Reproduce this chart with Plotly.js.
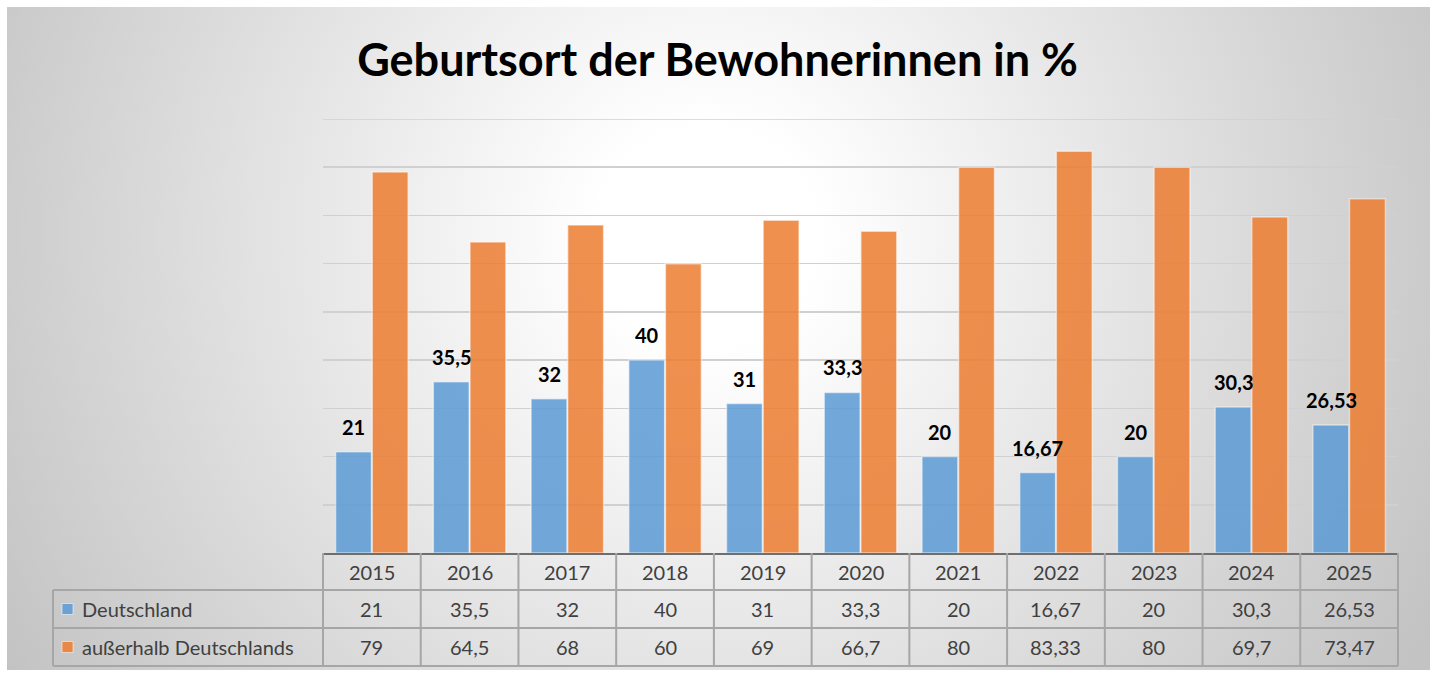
<!DOCTYPE html>
<html>
<head>
<meta charset="utf-8">
<script src="https://cdn.plot.ly/plotly-3.0.1.min.js"></script>
<style>
  html, body { margin:0; padding:0; background:#ffffff; }
  #bg { position:absolute; left:7px; top:7px; width:1423px; height:663px;
        background: radial-gradient(circle at 700px 230px, #ffffff 0px, #ffffff 110px, #c3c3c3 820px); }
  #chart { position:absolute; left:0; top:0; width:1435px; height:673px; }
</style>
</head>
<body>
<div id="bg"></div>
<div id="chart"></div>
<script>
// ---- data ----
const years = ["2015","2016","2017","2018","2019","2020","2021","2022","2023","2024","2025"];
const deutschland = [21, 35.5, 32, 40, 31, 33.3, 20, 16.67, 20, 30.3, 26.53];
const ausserhalb = [79, 64.5, 68, 60, 69, 66.7, 80, 83.33, 80, 69.7, 73.47];
const seriesNames = ["Deutschland", "außerhalb Deutschlands"];
const chartTitle = "Geburtsort der Bewohnerinnen in %";
const yMax = 90;

// ---- styling ----
const blue = "#5b9bd5", orange = "#ed7d31";
const fontFam = "Lato, 'Open Sans', sans-serif";
const fmt = v => String(v).replace(".", ",");

// geometry helpers (pixels -> paper)
const L = 323, R = 1398, T = 119, B = 553;
const px = x => (x - L) / (R - L);
const py = y => (B - y) / (B - T);

const traces = [
  { type:"bar", name:seriesNames[0], x:years, y:deutschland,
    marker:{color:blue, opacity:0.85, line:{color:"rgba(255,255,255,0.55)", width:1.5}},
    hoverinfo:"x+y", showlegend:false },
  { type:"bar", name:seriesNames[1], x:years, y:ausserhalb,
    marker:{color:orange, opacity:0.85, line:{color:"rgba(255,255,255,0.55)", width:1.5}},
    hoverinfo:"x+y", showlegend:false }
];

const gridCol = "#a6a6a6";
const shapes = [];
const annotations = [];
const n = years.length;
const cw = (R - L) / n;

// top gridline (at the axis maximum)
shapes.push({type:"line", xref:"paper", yref:"y", x0:0, x1:1, y0:yMax, y1:yMax, layer:"below",
             line:{color:"#d0d0d0", width:1.5}});

// vertical lines at category boundaries
for (let k = 0; k <= n; k++) {
  const xx = px(L + k * cw);
  shapes.push({type:"line", xref:"paper", yref:"paper", x0:xx, x1:xx, y0:py(553), y1:py(666),
               line:{color:gridCol, width:2}});
}
// horizontal lines
[590, 628, 666].forEach(y => {
  shapes.push({type:"line", xref:"paper", yref:"paper", x0:px(53), x1:px(R), y0:py(y), y1:py(y),
               line:{color:gridCol, width:2}});
});
// left edge of row-label cells
shapes.push({type:"line", xref:"paper", yref:"paper", x0:px(53), x1:px(53), y0:py(590), y1:py(666),
             line:{color:gridCol, width:2}});

// legend keys
[[blue, 609], [orange, 647]].forEach(([c, yc]) => {
  shapes.push({type:"rect", xref:"paper", yref:"paper", x0:px(62), x1:px(73), y0:py(yc-5.5), y1:py(yc+5.5),
               fillcolor:c, opacity:0.85, line:{color:"rgba(255,255,255,0.6)", width:1}});
});

const tblFont = {family:fontFam, size:20, color:"#404040"};
const colX = i => px(L + (i + 0.5) * cw);
// header years
years.forEach((y, i) => annotations.push({x:colX(i), y:py(571.5), xref:"paper", yref:"paper", text:y,
                                     showarrow:false, font:tblFont, xanchor:"center", yanchor:"middle"}));
// values rows
deutschland.forEach((v, i) => annotations.push({x:colX(i), y:py(609), xref:"paper", yref:"paper", text:fmt(v),
                                     showarrow:false, font:tblFont, xanchor:"center", yanchor:"middle"}));
ausserhalb.forEach((v, i) => annotations.push({x:colX(i), y:py(647), xref:"paper", yref:"paper", text:fmt(v),
                                     showarrow:false, font:tblFont, xanchor:"center", yanchor:"middle"}));
// row labels
annotations.push({x:px(80), y:py(609), xref:"paper", yref:"paper", text:seriesNames[0], showarrow:false,
                  font:tblFont, xanchor:"left", yanchor:"middle"});
annotations.push({x:px(80), y:py(647), xref:"paper", yref:"paper", text:seriesNames[1], showarrow:false,
                  font:tblFont, xanchor:"left", yanchor:"middle"});

// data labels on Deutschland bars (x at blue bar centre, y from the value on the y axis)
deutschland.forEach((v, i) => annotations.push({x:px(L + (i + 0.5) * cw - 18), y:v, xref:"paper", yref:"y",
                                     text:"<b>"+fmt(v)+"</b>", showarrow:false, xanchor:"center",
                                     yshift:25, yanchor:"middle",
                                     font:{family:fontFam, size:20, color:"#000000"}}));

const layout = {
  width:1435, height:673,
  paper_bgcolor:"rgba(0,0,0,0)", plot_bgcolor:"rgba(0,0,0,0)",
  margin:{l:L, r:1435-R, t:T, b:673-B, pad:0},
  title:{text:"<b>"+chartTitle+"</b>", font:{family:fontFam, size:45, color:"#000000"},
         x:0.5, xref:"container", y:1-60/673, yref:"container", xanchor:"center", yanchor:"middle"},
  barmode:"group", bargap:0.25, bargroupgap:0.02,
  xaxis:{type:"category", range:[-0.5, n - 0.5], autorange:false, showticklabels:false, ticks:"",
         showgrid:false, zeroline:false, showline:true, linecolor:"#6e6e6e", linewidth:2, fixedrange:true},
  yaxis:{range:[0, yMax], autorange:false, dtick:10, showticklabels:false, ticks:"", showgrid:true,
         gridcolor:"#d0d0d0", gridwidth:1.5, zeroline:false, showline:false, fixedrange:true},
  shapes:shapes, annotations:annotations, showlegend:false
};

Plotly.newPlot("chart", traces, layout, {displayModeBar:false, staticPlot:true});
</script>
</body>
</html>
